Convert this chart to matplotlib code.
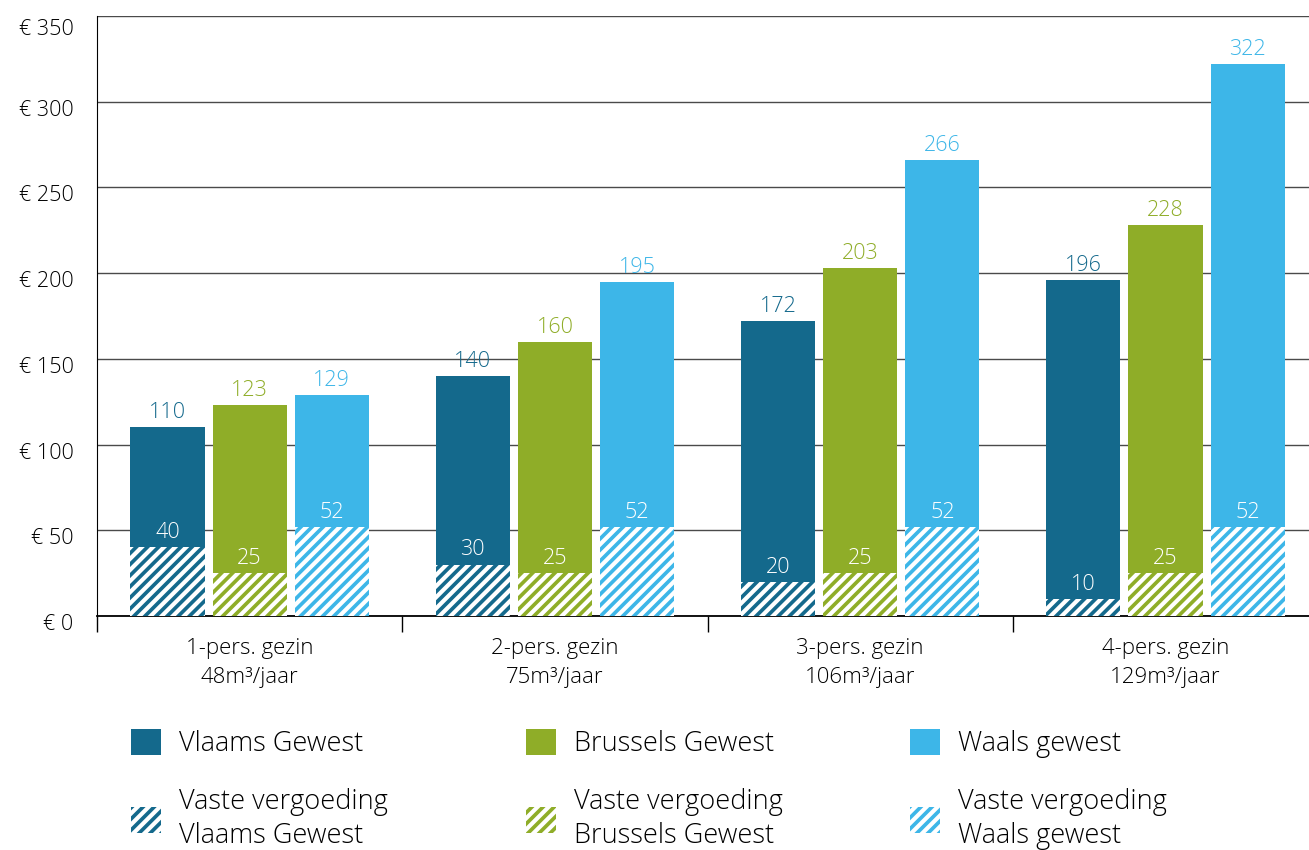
import matplotlib.pyplot as plt
import matplotlib.transforms as mtransforms
from matplotlib.patches import Patch
import numpy as np

plt.rcParams['font.family'] = ['Open Sans', 'DejaVu Sans']
plt.rcParams['font.weight'] = 'light'
plt.rcParams['hatch.linewidth'] = 3.0

# data
households = ['1-pers. gezin', '2-pers. gezin', '3-pers. gezin', '4-pers. gezin']
volumes = ['48m³/jaar', '75m³/jaar', '106m³/jaar', '129m³/jaar']
regions = ['Vlaams Gewest', 'Brussels Gewest', 'Waals gewest']
totals = {
    'Vlaams Gewest': [110, 140, 172, 196],
    'Brussels Gewest': [123, 160, 203, 228],
    'Waals gewest': [129, 195, 266, 322],
}
fixed = {
    'Vlaams Gewest': [40, 30, 20, 10],
    'Brussels Gewest': [25, 25, 25, 25],
    'Waals gewest': [52, 52, 52, 52],
}
colors = {
    'Vlaams Gewest': '#14698c',
    'Brussels Gewest': '#8fad28',
    'Waals gewest': '#3db6e8',
}
yticks = [0, 50, 100, 150, 200, 250, 300, 350]

fig = plt.figure(figsize=(13.09, 8.5), dpi=100)
ax = fig.add_axes([97 / 1309, 1 - 616 / 850, 1 - 97 / 1309, 600 / 850])

x = np.arange(len(households))
width = 0.243
step = 0.269

for i, reg in enumerate(regions):
    pos = x + (i - 1) * step
    c = colors[reg]
    ax.bar(pos, totals[reg], width, color=c, zorder=3)
    ax.bar(pos, fixed[reg], width, facecolor=c, edgecolor='white',
           hatch='///', linewidth=0, zorder=4)
    for px, t, f in zip(pos, totals[reg], fixed[reg]):
        ax.annotate(str(t), (px, t), xytext=(0, 3), textcoords='offset points',
                    ha='center', va='bottom', color=c, fontsize=15.5)
        ax.annotate(str(f), (px, f), xytext=(0, 3), textcoords='offset points',
                    ha='center', va='bottom', color='white', fontsize=15.5, zorder=5)

ax.set_xlim(-0.5, 3.47)
ax.set_ylim(0, 350)
ax.set_yticks(yticks)
ax.set_yticklabels([f'€ {v}' for v in yticks], fontsize=15.5)
ax.tick_params(axis='y', length=0, pad=17)
offset = mtransforms.ScaledTranslation(0, -6 / 100, fig.dpi_scale_trans)
for lab in ax.get_yticklabels():
    lab.set_transform(lab.get_transform() + offset)
# top label sits a bit lower in the original
top = ax.get_yticklabels()[-1]
top.set_transform(top.get_transform() + mtransforms.ScaledTranslation(0, -5 / 100, fig.dpi_scale_trans))

ax.set_xticks(x)
ax.set_xticklabels([f'{h}\n{v}' for h, v in zip(households, volumes)],
                   fontsize=16, linespacing=1.5)
ax.tick_params(axis='x', length=0, pad=16)
ax.set_xticks([-0.5, 0.5, 1.5, 2.5], minor=True)
ax.tick_params(axis='x', which='minor', length=11.5, width=1, color='black', direction='out')

ax.grid(axis='y', color='#4a4a4a', linewidth=1, zorder=0)
for s in ['top', 'right']:
    ax.spines[s].set_visible(False)
ax.spines['left'].set_color('black')
ax.spines['bottom'].set_color('black')
ax.spines['bottom'].set_linewidth(1.3)

# legend, one column per region
legend_x = [131, 526, 910]
for reg, lx in zip(regions, legend_x):
    c = colors[reg]
    handles = [Patch(facecolor=c, edgecolor=c, linewidth=0),
               Patch(facecolor=c, edgecolor='white', hatch='///', linewidth=0)]
    labels = [reg, 'Vaste vergoeding\n' + reg]
    leg = fig.legend(handles, labels, loc='upper left',
                     bbox_to_anchor=(lx / 1309, 1 - 729 / 850), frameon=False,
                     fontsize=19.5, handlelength=1.1, handleheight=1.1,
                     handletextpad=0.68, labelspacing=1.1, borderpad=0,
                     borderaxespad=0)
    for t in leg.get_texts():
        t.set_linespacing(1.3)

fig.savefig('out.png', dpi=100)
